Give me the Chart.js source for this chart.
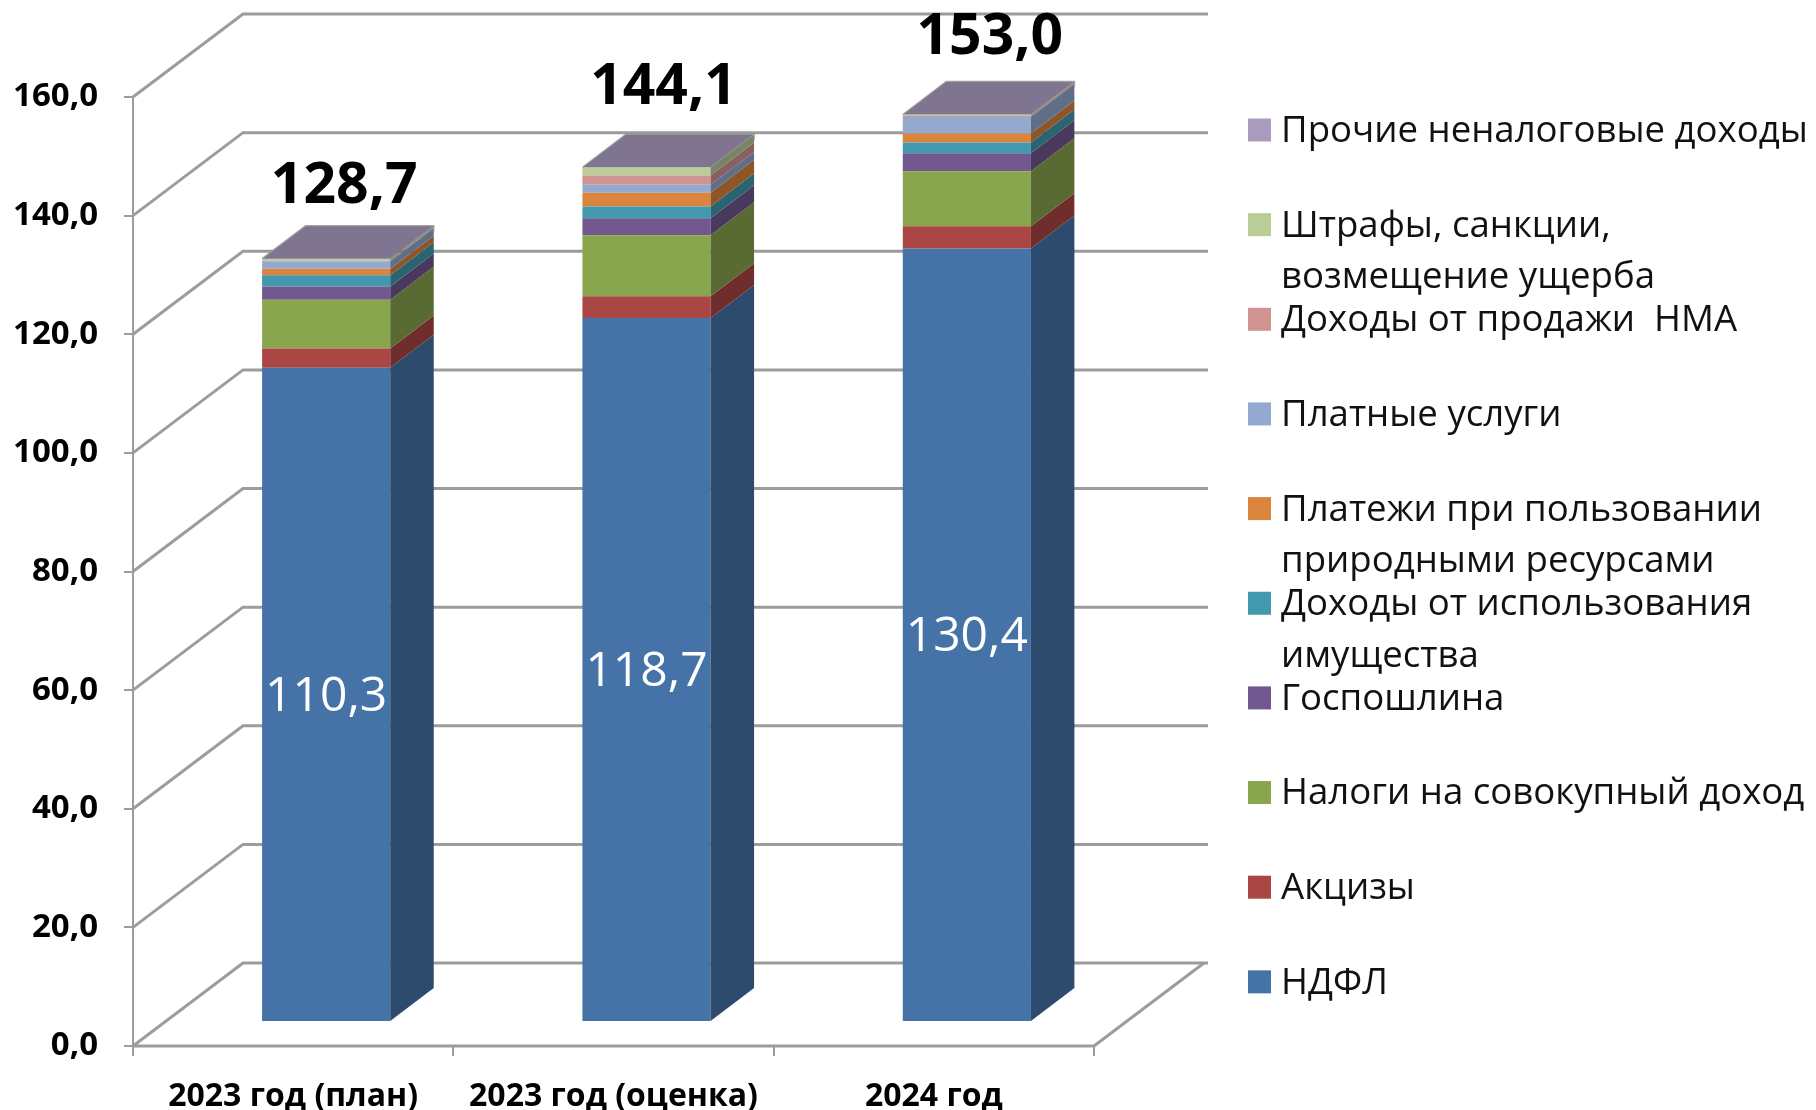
<!DOCTYPE html>
<html lang="ru">
<head>
<meta charset="utf-8">
<title>Структура доходов</title>
<script src="https://cdn.jsdelivr.net/npm/chart.js@4/dist/chart.umd.js"></script>
<style>
    html, body { margin: 0; padding: 0; background: #fff; }
    canvas { display: block; }
</style>
</head>
<body>
<canvas id="chart1" width="1816" height="1110"></canvas>
<script>
// Данные диаграммы
const categories = ['2023 год (план)', '2023 год (оценка)', '2024 год'];
const ndfl       = [110.3, 118.7, 130.4];
const akcizy     = [3.26, 3.65, 3.75];
const sovokupny  = [8.2, 10.3, 9.3];
const gosposhl   = [2.25, 2.87, 3.0];
const imushchest = [1.9, 1.97, 1.85];
const prirodnye  = [1.07, 2.3, 1.5];
const platnye    = [1.3, 1.35, 2.8];
const nma        = [0.05, 1.57, 0.15];
const shtrafy    = [0.3, 1.4, 0.2];
const prochie    = [0.07, 0.0, 0.05];
const totalLabels = ['128,7', '144,1', '153,0'];

const seriesNames = [
    ['НДФЛ'],
    ['Акцизы'],
    ['Налоги на совокупный доход'],
    ['Госпошлина'],
    ['Доходы от использования', 'имущества'],
    ['Платежи при пользовании', 'природными ресурсами'],
    ['Платные услуги'],
    ['Доходы от продажи  НМА'],
    ['Штрафы, санкции,', 'возмещение ущерба'],
    ['Прочие неналоговые доходы']
];
const seriesValues = [ndfl, akcizy, sovokupny, gosposhl, imushchest, prirodnye, platnye, nma, shtrafy, prochie];
const seriesColors = ['#4573A7', '#AA4643', '#89A54E', '#71588F', '#4198AF', '#DB843D', '#93A9CF', '#D19392', '#B9CD96', '#A99BBD'];

// Псевдо-3D: смещения задней стенки и плоскости столбцов
const GRID = '#9C9C9C';
const FONT = '"Open Sans", "Noto Sans", sans-serif';
const wallDx = 110, wallDy = 83;
const barDx = 33, barDy = 24;
const sideDx = 43.5, sideDy = 33;
// небольшая поправка положения итогов над столбцами
const totalNudge = [[-2, 4], [-3, -3], [3, -1]];

function darker(hex, f) {
    const n = parseInt(hex.slice(1), 16);
    const r = Math.round((n >> 16 & 255) * f);
    const g = Math.round((n >> 8 & 255) * f);
    const b = Math.round((n & 255) * f);
    return `rgb(${r},${g},${b})`;
}

function poly(ctx, pts, fill) {
    ctx.beginPath();
    ctx.moveTo(pts[0][0], pts[0][1]);
    pts.slice(1).forEach(p => ctx.lineTo(p[0], p[1]));
    ctx.closePath();
    ctx.fillStyle = fill;
    ctx.fill();
}

const box3d = {
    id: 'box3d',
    beforeDatasetsDraw(chart) {
        const { ctx, chartArea: a, scales: { y } } = chart;
        ctx.save();
        ctx.strokeStyle = GRID;
        ctx.lineWidth = 3;
        // стенка и пол
        y.ticks.forEach(t => {
            const py = y.getPixelForValue(t.value);
            ctx.beginPath();
            ctx.moveTo(a.left, py);
            ctx.lineTo(a.left + wallDx, py - wallDy);
            ctx.lineTo(a.right + wallDx + 4, py - wallDy);
            ctx.stroke();
        });
        ctx.beginPath();
        ctx.moveTo(a.left, a.bottom);
        ctx.lineTo(a.right, a.bottom);
        ctx.lineTo(a.right + wallDx, a.bottom - wallDy);
        ctx.stroke();
        ctx.restore();
        // столбцы рисуются в своей плоскости
        ctx.save();
        ctx.translate(barDx, -barDy);
    },
    afterDatasetsDraw(chart) {
        const { ctx } = chart;
        categories.forEach((c, i) => {
            let top = null;
            chart.data.datasets.forEach((ds, d) => {
                const bar = chart.getDatasetMeta(d).data[i];
                if (seriesValues[d][i] <= 0) return;
                const r = bar.x + bar.width / 2;
                poly(ctx, [[r, bar.y], [r + sideDx, bar.y - sideDy], [r + sideDx, bar.base - sideDy], [r, bar.base]], darker(seriesColors[d], 0.65));
                top = bar;
            });
            const l = top.x - top.width / 2, r = top.x + top.width / 2;
            poly(ctx, [[l, top.y], [l + sideDx, top.y - sideDy], [r + sideDx, top.y - sideDy], [r, top.y]], '#7F7590');
            ctx.beginPath();
            ctx.moveTo(l, top.y);
            ctx.lineTo(l + sideDx, top.y - sideDy);
            ctx.lineTo(r + sideDx, top.y - sideDy);
            ctx.lineTo(r + sideDx, top.y - sideDy + 6);
            ctx.strokeStyle = 'rgba(150,150,150,0.8)';
            ctx.lineWidth = 1.5;
            ctx.stroke();

            // подписи НДФЛ и итоги
            const blue = chart.getDatasetMeta(0).data[i];
            ctx.textAlign = 'center';
            ctx.textBaseline = 'middle';
            ctx.fillStyle = '#fff';
            ctx.font = '48px ' + FONT;
            ctx.fillText(String(ndfl[i]).replace('.', ','), blue.x, (blue.y + blue.base) / 2 + 3);
            ctx.fillStyle = '#000';
            ctx.font = 'bold 57px ' + FONT;
            ctx.fillText(totalLabels[i], top.x + 20 + totalNudge[i][0], top.y - 76 + totalNudge[i][1]);
        });
        ctx.restore();
        drawLegend(chart);
    }
};

function drawLegend(chart) {
    const ctx = chart.ctx;
    ctx.save();
    ctx.textAlign = 'left';
    ctx.textBaseline = 'middle';
    ctx.font = '36.6px ' + FONT;
    const names = seriesNames.slice().reverse();
    const colors = seriesColors.slice().reverse();
    names.forEach((lines, i) => {
        const cy = 130.5 + i * 94.65;
        ctx.fillStyle = colors[i];
        ctx.fillRect(1248, cy - 12, 23, 23);
        ctx.fillStyle = '#111';
        lines.forEach((s, k) => ctx.fillText(s, 1281, cy + 1 + k * 51.5));
    });
    ctx.restore();
}

const ctx1 = document.getElementById('chart1').getContext('2d');
const chart1 = new Chart(ctx1, {
    type: 'bar',
    data: {
        labels: categories,
        datasets: seriesNames.map((name, i) => ({
            label: name.join(' '),
            data: seriesValues[i],
            backgroundColor: seriesColors[i],
            barPercentage: 0.4,
            categoryPercentage: 1,
            clip: false
        }))
    },
    plugins: [box3d],
    options: {
        responsive: false,
        animation: false,
        devicePixelRatio: 1,
        layout: { padding: { top: 97, right: 722, left: 0, bottom: 0 } },
        plugins: { legend: { display: false }, tooltip: { enabled: false } },
        scales: {
            x: {
                stacked: true,
                afterFit(s) { s.height = 64; },
                grid: { offset: true, drawOnChartArea: false, color: GRID, lineWidth: 2, tickLength: 10 },
                border: { color: GRID, width: 2 },
                ticks: { color: '#000', font: { family: FONT, size: 32, weight: 'bold' }, padding: 22, maxRotation: 0 }
            },
            y: {
                stacked: true,
                min: 0,
                max: 160,
                afterFit(s) { s.width = 133; },
                grid: { drawOnChartArea: false, color: GRID, lineWidth: 2, tickLength: 9 },
                border: { color: GRID, width: 2 },
                ticks: {
                    stepSize: 20,
                    color: '#000',
                    padding: 26,
                    font: { family: FONT, size: 33, weight: 'bold' },
                    callback: v => v.toFixed(1).replace('.', ',')
                }
            }
        }
    }
});
</script>
</body>
</html>
